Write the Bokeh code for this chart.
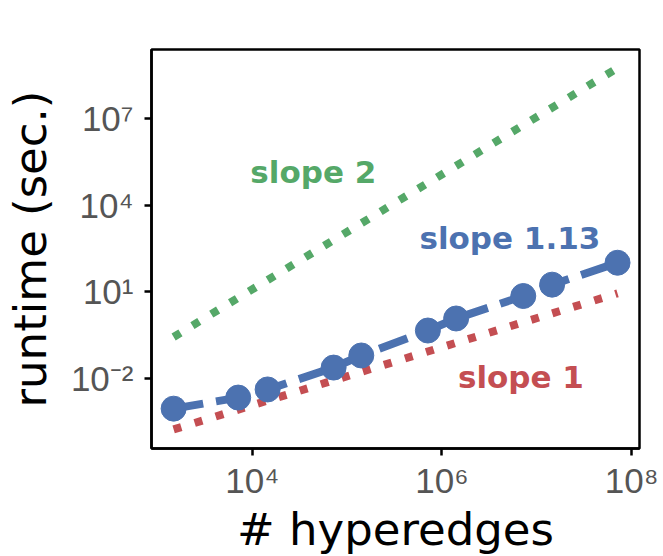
from bokeh.plotting import figure
from bokeh.models import FixedTicker, CustomJSTickFormatter, Range1d
from bokeh.core.properties import value
from bokeh.embed import file_html
from bokeh.resources import INLINE

# measured data
hyperedges = [1.48e3, 7.1e3, 1.45e4, 7.2e4, 1.41e5, 7.1e5, 1.41e6, 7.2e6, 1.45e7, 7.1e7]
runtime = [9.1e-4, 2.2e-3, 4.2e-3, 0.024, 0.063, 0.46, 1.2, 7.2, 17.8, 102.0]

# reference slope lines (endpoints)
ref_x = [1.48e3, 7.1e7]
slope1_y = [1.74e-4, 8.9]
slope2_y = [0.275, 5.6e8]

x_ticks = [1e4, 1e6, 1e8]
y_ticks = [1e-2, 1e1, 1e4, 1e7]

labels = ["slope 2", "slope 1.13", "slope 1"]
label_x = [4.4e4, 5.2e6, 6.8e6]
label_y = [1.4e5, 740.0, 0.0117]

BLUE = "#4C72B0"
RED = "#C44E52"
GREEN = "#55A868"

p = figure(frame_width=488, frame_height=399, x_axis_type="log", y_axis_type="log",
           output_backend="svg", toolbar_location=None,
           x_range=Range1d(865, 1.21e8), y_range=Range1d(3.8e-5, 2.45e9),
           min_border_left=150, min_border_right=23, min_border_top=49,
           min_border_bottom=92)

p.background_fill_color = "white"
p.border_fill_color = "white"
p.grid.visible = False
p.outline_line_color = "black"
p.outline_line_width = 2.5

fmt = CustomJSTickFormatter(code="""
const sup = {'-':'\u207b','0':'\u2070','1':'\u00b9','2':'\u00b2','3':'\u00b3','4':'\u2074','5':'\u2075','6':'\u2076','7':'\u2077','8':'\u2078','9':'\u2079'};
const e = Math.round(Math.log10(tick));
return '10' + String(e).split('').map(c => sup[c]).join('');
""")

for ax, ticks in ((p.xaxis[0], x_ticks), (p.yaxis[0], y_ticks)):
    ax.ticker = FixedTicker(ticks=ticks, minor_ticks=[])
    ax.formatter = fmt
    ax.major_label_text_font = "Liberation Sans"
    ax.major_label_text_font_size = "35px"
    ax.major_label_text_color = "#555555"
    ax.major_tick_line_color = "black"
    ax.major_tick_line_width = 2.5
    ax.major_tick_out = 7
    ax.major_tick_in = 0
    ax.minor_tick_line_color = None
    ax.axis_line_color = "black"
    ax.axis_line_width = 2.5
    ax.axis_label_text_font = "DejaVu Sans"
    ax.axis_label_text_font_size = "45px"
    ax.axis_label_text_font_style = "normal"
    ax.axis_label_text_color = "black"

p.xaxis.major_label_standoff = 5
p.yaxis.major_label_standoff = 11
p.xaxis.axis_label = "# hyperedges"
p.yaxis.axis_label = "runtime (sec.)"
p.xaxis.axis_label_standoff = 0
p.yaxis.axis_label_standoff = 11

p.line(ref_x, slope2_y, line_color=GREEN, line_width=8, line_dash="8 14")
p.line(ref_x, slope1_y, line_color=RED, line_width=8, line_dash="8 14")
p.line(hyperedges, runtime, line_color=BLUE, line_width=8, line_dash="30 13")
p.scatter(hyperedges, runtime, size=25, color=BLUE, line_color=BLUE)

p.text(x=label_x, y=label_y, text=labels,
       text_color=[GREEN, BLUE, RED],
       text_font=value("DejaVu Sans"), text_font_style="bold",
       text_font_size="31px", text_align="center", text_baseline="middle")

open("out.html", "w").write(file_html(p, INLINE))
